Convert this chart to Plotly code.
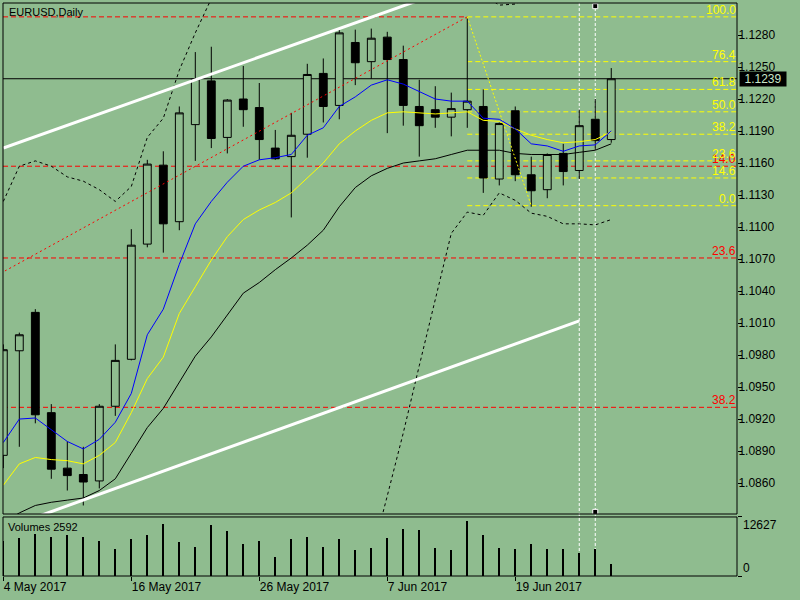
import plotly.graph_objects as pog
import pandas as pd

# daily bars shown on the chart
dates = ['2017-05-04', '2017-05-05', '2017-05-08', '2017-05-09', '2017-05-10', '2017-05-11',
         '2017-05-12', '2017-05-15', '2017-05-16', '2017-05-17', '2017-05-18', '2017-05-19',
         '2017-05-22', '2017-05-23', '2017-05-24', '2017-05-25', '2017-05-26', '2017-05-29',
         '2017-05-30', '2017-05-31', '2017-06-01', '2017-06-02', '2017-06-05', '2017-06-06',
         '2017-06-07', '2017-06-08', '2017-06-09', '2017-06-12', '2017-06-13', '2017-06-14',
         '2017-06-15', '2017-06-16', '2017-06-19', '2017-06-20', '2017-06-21', '2017-06-22',
         '2017-06-23', '2017-06-26', '2017-06-27']
open_num = [1.0886, 1.0984, 1.1020, 1.0926, 1.0874, 1.0868, 1.0862, 1.0932, 1.0976, 1.1084,
            1.1158, 1.1105, 1.1196, 1.1237, 1.1184, 1.1220, 1.1212, 1.1174, 1.1166, 1.1187,
            1.1244, 1.1214, 1.1273, 1.1255, 1.1278, 1.1257, 1.1213, 1.1210, 1.1203, 1.1210,
            1.1213, 1.1145, 1.1209, 1.1149, 1.1135, 1.1169, 1.1153, 1.1201, 1.1182]
high_num = [1.0990, 1.1001, 1.1023, 1.0934, 1.0899, 1.0894, 1.0934, 1.0990, 1.1098, 1.1163,
            1.1171, 1.1213, 1.1264, 1.1269, 1.1220, 1.1251, 1.1235, 1.1191, 1.1207, 1.1253,
            1.1258, 1.1285, 1.1285, 1.1286, 1.1283, 1.1270, 1.1238, 1.1232, 1.1226, 1.1297,
            1.1229, 1.1198, 1.1213, 1.1166, 1.1169, 1.1178, 1.1210, 1.1220, 1.1249]
low_num = [1.0874, 1.0894, 1.0916, 1.0864, 1.0853, 1.0839, 1.0855, 1.0923, 1.0975, 1.1081,
           1.1076, 1.1097, 1.1162, 1.1174, 1.1169, 1.1194, 1.1163, 1.1163, 1.1109, 1.1165,
           1.1198, 1.1201, 1.1233, 1.1239, 1.1188, 1.1195, 1.1166, 1.1193, 1.1185, 1.1193,
           1.1132, 1.1139, 1.1143, 1.1119, 1.1127, 1.1139, 1.1145, 1.1172, 1.1179]
close_num = [1.0985, 1.0999, 1.0924, 1.0873, 1.0867, 1.0861, 1.0932, 1.0975, 1.1083, 1.1159,
             1.1103, 1.1207, 1.1239, 1.1183, 1.1219, 1.1210, 1.1182, 1.1164, 1.1186, 1.1243,
             1.1213, 1.1282, 1.1254, 1.1277, 1.1257, 1.1214, 1.1195, 1.1203, 1.1211, 1.1218,
             1.1146, 1.1197, 1.1149, 1.1134, 1.1168, 1.1152, 1.1195, 1.1181, 1.1239]
volume_num = [7500, 8130, 8990, 8350, 8770, 8350, 7490, 5780, 7920, 8770, 11130, 7280, 6210,
              10910, 9630, 6850, 7490, 4070, 7920, 8350, 6210, 7920, 5560, 5990, 8130, 10060,
              9840, 5990, 5560, 11770, 8770, 5990, 5780, 6850, 5780, 5780, 4920, 5780, 2592]
volume_max = 12627

# indicator lines
ma_fast = [1.0898, 1.0920, 1.0921, 1.0910, 1.0899, 1.0892, 1.0901, 1.0917, 1.0944, 1.0999,
           1.1023, 1.1065, 1.1103, 1.1124, 1.1142, 1.1157, 1.1163, 1.1165, 1.1168, 1.1186,
           1.1193, 1.1213, 1.1222, 1.1233, 1.1238, 1.1234, 1.1227, 1.1220, 1.1218, 1.1218,
           1.1202, 1.1201, 1.1192, 1.1178, 1.1176, 1.1171, 1.1176, 1.1177, 1.1190]
ma_mid = [1.0858, 1.0878, 1.0884, 1.0882, 1.0881, 1.0878, 1.0886, 1.0898, 1.0926, 1.0958,
          1.0978, 1.1019, 1.1044, 1.1069, 1.1091, 1.1107, 1.1116, 1.1123, 1.1132, 1.1146,
          1.1160, 1.1178, 1.1190, 1.1200, 1.1207, 1.1208, 1.1207, 1.1206, 1.1207, 1.1208,
          1.1200, 1.1199, 1.1192, 1.1186, 1.1182, 1.1179, 1.1180, 1.1182, 1.1189]
ma_slow = [1.0823, 1.0832, 1.0839, 1.0842, 1.0844, 1.0846, 1.0853, 1.0864, 1.0888, 1.0912,
           1.0930, 1.0954, 1.0979, 1.0997, 1.1017, 1.1038, 1.1048, 1.1060, 1.1071, 1.1083,
           1.1097, 1.1119, 1.1137, 1.1148, 1.1155, 1.1160, 1.1162, 1.1164, 1.1168, 1.1172,
           1.1172, 1.1172, 1.1169, 1.1168, 1.1168, 1.1168, 1.1170, 1.1172, 1.1178]
band_upper = [1.1124, 1.1157, 1.1162, 1.1157, 1.1147, 1.1143, 1.1135, 1.1124, 1.1138, 1.1184,
              1.1202, 1.1247, 1.1282, 1.1314, 1.1335, 1.1350, 1.1358, 1.1362, 1.1365, 1.1370,
              1.1372, 1.1380, 1.1385, 1.1390, 1.1390, 1.1385, 1.1375, 1.1360, 1.1345, 1.1330,
              1.1318, 1.1308, 1.1309, 1.1318, 1.1325, 1.1330, 1.1330, 1.1328, 1.1322]
band_lower = [None, None, None, None, None, None, None, None, None, None,
              None, None, None, None, None, None, None, None, None, None,
              None, None, 1.0735, 1.0790, 1.0848, 1.0907, 1.0970, 1.1033, 1.1094, 1.1114,
              1.1111, 1.1132, 1.1125, 1.1113, 1.1110, 1.1103, 1.1103, 1.1102, 1.1107]

# fibonacci objects (levels in price, labels as drawn)
red_fib_levels = [1.1297, 1.1157, 1.1071, 1.0931]
red_fib_labels = ['', '14.0', '23.6', '38.2']
red_fib_trend_x = [-87, 29]
red_fib_trend_y = [1.0341, 1.1297]
yellow_fib_levels = [1.1297, 1.1255, 1.1229, 1.1208, 1.1187, 1.1162, 1.1146, 1.1120]
yellow_fib_labels = ['100.0', '76.4', '61.8', '50.0', '38.2', '23.6', '14.6', '0.0']
yellow_fib_trend_x = [29, 33]
yellow_fib_trend_y = [1.1297, 1.1120]

# channel trendlines and vertical lines
upper_channel_x = [0, 30]
upper_channel_y = [1.1174, 1.1334]
lower_channel_x = [0, 36]
lower_channel_y = [1.0817, 1.1012]
vlines_x = [36, 37]

# axes
price_ticks = [1.0860, 1.0890, 1.0920, 1.0950, 1.0980, 1.1010, 1.1040, 1.1070,
               1.1100, 1.1130, 1.1160, 1.1190, 1.1220, 1.1250, 1.1280]
date_tick_idx = [0, 8, 16, 24, 32]
price_range = [1.0831, 1.1310]
bar_range = [-0.02, 45.86]

BG = '#8FBC8F'
FONT = 'Liberation Sans'

bars = list(range(len(dates)))
dt = pd.to_datetime(dates)
date_tick_text = [f"{dt[i].day} {dt[i].strftime('%b %Y')}" for i in date_tick_idx]

fig = pog.Figure()

# fibo diagonals
fig.add_trace(pog.Scatter(x=red_fib_trend_x, y=red_fib_trend_y, mode='lines',
                          line=dict(color='red', width=1, dash='2px,3px')))
fig.add_trace(pog.Scatter(x=yellow_fib_trend_x, y=yellow_fib_trend_y, mode='lines',
                          line=dict(color='yellow', width=1, dash='2px,2px')))

# candles
fig.add_trace(pog.Candlestick(x=bars, open=open_num, high=high_num, low=low_num, close=close_num,
                              increasing=dict(fillcolor=BG, line=dict(color='black', width=1)),
                              decreasing=dict(fillcolor='black', line=dict(color='black', width=1)),
                              whiskerwidth=0))

# moving averages and bands
fig.add_trace(pog.Scatter(x=bars, y=ma_slow, mode='lines', line=dict(color='black', width=1)))
fig.add_trace(pog.Scatter(x=bars, y=ma_mid, mode='lines', line=dict(color='yellow', width=1)))
fig.add_trace(pog.Scatter(x=bars, y=ma_fast, mode='lines', line=dict(color='blue', width=1)))
fig.add_trace(pog.Scatter(x=bars, y=band_upper, mode='lines',
                          line=dict(color='black', width=1, dash='3px,3px')))
fig.add_trace(pog.Scatter(x=bars, y=band_lower, mode='lines',
                          line=dict(color='black', width=1, dash='3px,3px')))

# white channel
fig.add_trace(pog.Scatter(x=upper_channel_x, y=upper_channel_y, mode='lines',
                          line=dict(color='white', width=3)))
fig.add_trace(pog.Scatter(x=lower_channel_x, y=lower_channel_y, mode='lines',
                          line=dict(color='white', width=3)))

# volumes
fig.add_trace(pog.Bar(x=bars, y=volume_num, width=0.07, marker=dict(color='black', line=dict(width=0)),
                      yaxis='y2'))

# selection handles of the vertical line
fig.add_trace(pog.Scatter(x=[vlines_x[1], vlines_x[1]],
                          y=[price_range[1] - 0.0003, price_range[0] + 0.0002], mode='markers',
                          marker=dict(symbol='square', size=5, color='black',
                                      line=dict(color='white', width=1))))

shapes = []
for i, lvl in enumerate(red_fib_levels):
    if i == 0:
        shapes.append(dict(type='line', xref='x', x0=bar_range[0], x1=yellow_fib_trend_x[0],
                           yref='y', y0=lvl, y1=lvl, layer='below',
                           line=dict(color='red', width=1, dash='5px,3px')))
    else:
        shapes.append(dict(type='line', xref='x domain', x0=0, x1=1, yref='y', y0=lvl, y1=lvl,
                           layer='below', line=dict(color='red', width=1, dash='5px,3px')))
for lvl in yellow_fib_levels:
    shapes.append(dict(type='line', xref='x', x0=yellow_fib_trend_x[0], x1=bar_range[1],
                       yref='y', y0=lvl, y1=lvl, layer='below',
                       line=dict(color='yellow', width=1, dash='5px,3px')))
for vx in vlines_x:
    shapes.append(dict(type='line', xref='x', x0=vx, x1=vx, yref='paper', y0=0, y1=1,
                       layer='below', line=dict(color='white', width=1, dash='3px,2px')))
# bid line
shapes.append(dict(type='line', xref='x domain', x0=0, x1=1, yref='y',
                   y0=close_num[-1], y1=close_num[-1], layer='below',
                   line=dict(color='black', width=1)))
# panel frames
shapes.append(dict(type='rect', xref='x domain', x0=0, x1=1, yref='y domain', y0=0, y1=1,
                   line=dict(color='black', width=1)))
shapes.append(dict(type='rect', xref='x domain', x0=0, x1=1, yref='y2 domain', y0=0, y1=1,
                   line=dict(color='black', width=1)))

annotations = []
for lvl, lab in zip(red_fib_levels, red_fib_labels):
    if lab:
        annotations.append(dict(text=lab, xref='paper', x=1, xanchor='right', xshift=1,
                                yref='y', y=lvl, yanchor='bottom', yshift=-2, showarrow=False,
                                font=dict(family=FONT, size=12, color='red')))
for lvl, lab in zip(yellow_fib_levels, yellow_fib_labels):
    annotations.append(dict(text=lab, xref='paper', x=1, xanchor='right', xshift=1,
                            yref='y', y=lvl, yanchor='bottom', yshift=-2, showarrow=False,
                            font=dict(family=FONT, size=12, color='yellow')))
annotations.append(dict(text='EURUSD,Daily', xref='paper', x=0, xanchor='left', xshift=4,
                        yref='paper', y=1, yanchor='top', yshift=-1, showarrow=False,
                        font=dict(family=FONT, size=11, color='black')))
annotations.append(dict(text=f'Volumes {volume_num[-1]}', xref='paper', x=0, xanchor='left',
                        xshift=3, yref='y2 domain', y=1, yanchor='top', yshift=-2,
                        showarrow=False, font=dict(family=FONT, size=11, color='black')))
annotations.append(dict(text=str(volume_max), xref='paper', x=1, xanchor='left', xshift=4,
                        yref='y2', y=volume_max, yanchor='top', yshift=1, showarrow=False,
                        font=dict(family=FONT, size=12, color='black')))
annotations.append(dict(text='0', xref='paper', x=1, xanchor='left', xshift=4,
                        yref='y2', y=0, yanchor='bottom', yshift=-1, showarrow=False,
                        font=dict(family=FONT, size=12, color='black')))
annotations.append(dict(text=f'{close_num[-1]:.4f}', xref='paper', x=1, xanchor='left', xshift=2,
                        yref='y', y=close_num[-1], yanchor='middle', showarrow=False,
                        bgcolor='black', borderpad=0, width=46, height=14, align='center',
                        font=dict(family=FONT, size=12, color='#c8e6c8')))

fig.update_layout(
    width=800, height=600,
    margin=dict(l=3, r=63, t=3, b=24, pad=0),
    paper_bgcolor=BG, plot_bgcolor=BG,
    showlegend=False, hovermode=False,
    font=dict(family=FONT, size=12, color='black'),
    shapes=shapes, annotations=annotations,
    xaxis=dict(range=bar_range, anchor='y2', tickvals=date_tick_idx, ticktext=date_tick_text,
               ticks='outside', ticklen=4, tickcolor='black', ticklabelposition='outside right',
               showgrid=False, zeroline=False, showline=False, rangeslider=dict(visible=False),
               tickfont=dict(family=FONT, size=12, color='black')),
    yaxis=dict(domain=[0.1082, 1], range=price_range, side='right', anchor='x',
               tickvals=price_ticks, tickformat='.4f', ticks='outside', ticklen=4,
               tickcolor='black', showgrid=False, zeroline=False, showline=False,
               ticklabelstandoff=-6,
               tickfont=dict(family=FONT, size=12, color='black')),
    yaxis2=dict(domain=[0, 0.103], range=[0, volume_max], side='right', anchor='x',
                tickvals=[0, volume_max], showticklabels=False, ticks='outside', ticklen=4,
                tickcolor='black', showgrid=False, zeroline=False, showline=False),
)

# page body has a default margin; drop it so the figure sits at the window corner
fig.write_html("out.html", config={'displayModeBar': False},
               post_script="document.body.style.margin='0';"
                           "document.body.style.background='" + BG + "';")
